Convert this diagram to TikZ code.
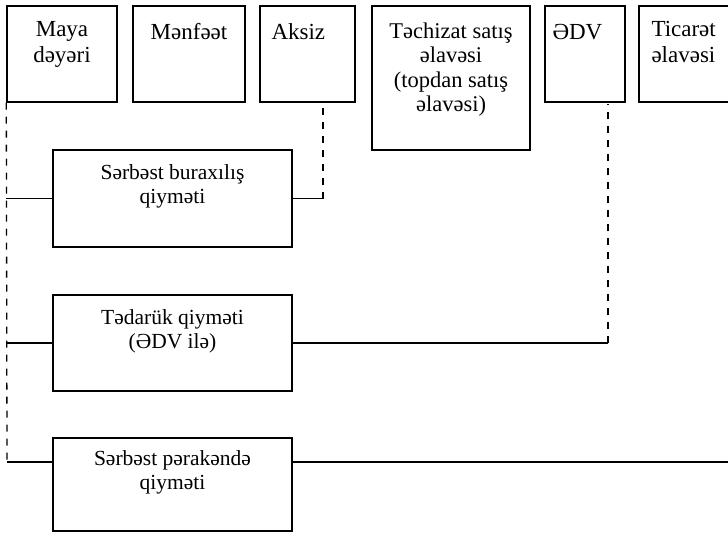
\documentclass[tikz,border=0pt]{standalone}
\usepackage{fontspec}
\setmainfont{Liberation Serif}
\usetikzlibrary{positioning}

\tikzset{
    box/.style={draw,rectangle,line width=1.4pt,inner sep=0pt},
    lbl/.style={font=\fontsize{21.5}{24.5}\selectfont,align=center,inner sep=0pt,execute at begin node={\strut}},
    toplbl/.style={lbl,font=\fontsize{23}{26}\selectfont},
    link/.style={line width=1.3pt},
    dlink/.style={line width=1.3pt,dash pattern=on 7pt off 7pt},
}

\begin{document}
\begin{tikzpicture}[x=1pt,y=-1pt]
    \useasboundingbox (0,0) rectangle (728,535);
    \clip (0,0) rectangle (728,535);
    % top row
    \node[box,minimum width=110pt,minimum height=96pt] (maya) at (62,54) {};
    \node[box,minimum width=112pt,minimum height=96pt] (menfeet) at (189,54) {};
    \node[box,minimum width=95pt,minimum height=96pt] (aksiz) at (307.5,54) {};
    \node[box,minimum width=158pt,minimum height=144pt] (techizat) at (451,78) {};
    \node[box,minimum width=80pt,minimum height=96pt] (edv) at (585,54) {};
    \node[box,minimum width=110pt,minimum height=96pt] (ticaret) at (694,54) {};
    \node[toplbl,below=16pt of maya.north] {Maya\\dəyəri};
    \node[toplbl,below=16pt of menfeet.north] {Mənfəət};
    \node[toplbl,below right=16pt and 12pt of aksiz.north west] {Aksiz};
    \node[lbl,font=\fontsize{22.5}{24.5}\selectfont,below=17pt of techizat.north] {Təchizat satış\\əlavəsi\\(topdan satış\\əlavəsi)};
    \node[toplbl,below right=16pt and 8pt of edv.north west] {ƏDV};
    \node[toplbl,below right=16pt and 13pt of ticaret.north west,align=left] {Ticarət\\əlavəsi};
    % price boxes
    \node[box,minimum width=239pt,minimum height=97pt] (buraxilis) at (172.5,198.5) {};
    \node[box,minimum width=239pt,minimum height=96pt] (tedaruk) at (172.5,343) {};
    \node[box,minimum width=239pt,minimum height=93pt] (perakende) at (172.5,484.5) {};
    \node[lbl,below=15pt of buraxilis.north] {Sərbəst buraxılış\\qiyməti};
    \node[lbl,below=15pt of tedaruk.north] {Tədarük qiyməti\\(ƏDV ilə)};
    \node[lbl,below=13pt of perakende.north] {Sərbəst pərakəndə\\qiyməti};
    % connectors
    \coordinate (l1) at (maya.south west |- buraxilis.west);
    \coordinate (l2) at (maya.south west |- tedaruk.west);
    \coordinate (l3) at (7,462);
    \coordinate (p3) at (perakende.west |- l3);
    \coordinate (a1) at (323,107);
    \coordinate (a2) at (a1 |- buraxilis.east);
    \coordinate (e1) at (608,104);
    \coordinate (e2) at (e1 |- tedaruk.east);
    \coordinate (r3) at (728,462);
    \draw[dlink] (maya.south west) -- (l3);
    \draw[link] (l1) -- (buraxilis.west);
    \draw[link] (l2) -- (tedaruk.west);
    \draw[link] (l3) -- (p3);
    \draw[link] (buraxilis.east) -- (a2);
    \draw[dlink] (a2) -- (a1);
    \draw[link] (tedaruk.east) -- (e2);
    \draw[dlink] (e2) -- (e1);
    \draw[link] (perakende.east |- l3) -- (r3);
\end{tikzpicture}
\end{document}
